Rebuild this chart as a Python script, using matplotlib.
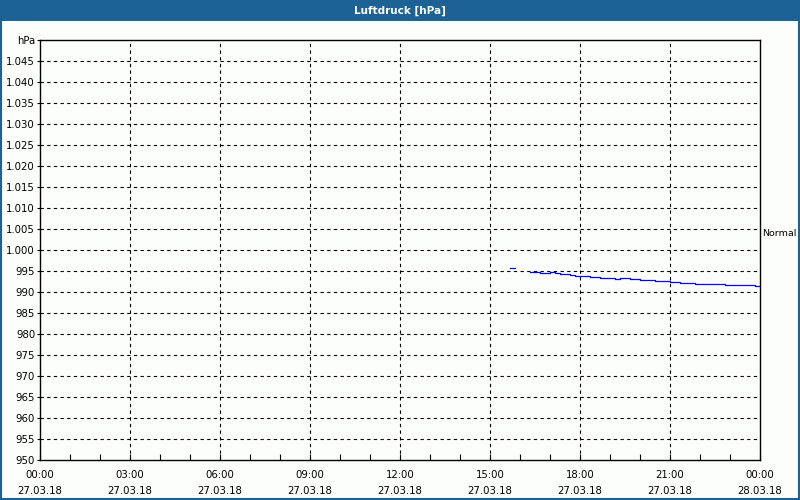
import matplotlib.pyplot as plt
import matplotlib.patches as patches
import numpy as np

# Luftdruck, 27.03.18, 10-Minuten-Werte (hPa)
start_a = 15 + 40/60  # 15:40
werte_a = [995.7, 995.7]
start_b = 16 + 20/60  # 16:20
werte_b = [994.7, 994.7, 994.5, 994.5, 994.8, 994.5, 994.2, 994.2, 994.0, 993.7,
           993.7, 993.7, 993.5, 993.5, 993.3, 993.3, 993.3, 993.0, 993.3, 993.3,
           993.0, 993.0, 992.8, 992.8, 992.8, 992.6, 992.6, 992.6, 992.3, 992.3,
           992.1, 992.1, 992.1, 991.8, 991.8, 991.8, 991.8, 991.8, 991.8, 991.6,
           991.6, 991.6, 991.6, 991.6, 991.6, 991.4, 991.4]
normal = 1004.0

x_ticks = [0, 3, 6, 9, 12, 15, 18, 21, 24]
x_labels = ['00:00\n27.03.18', '03:00\n27.03.18', '06:00\n27.03.18', '09:00\n27.03.18',
            '12:00\n27.03.18', '15:00\n27.03.18', '18:00\n27.03.18', '21:00\n27.03.18',
            '00:00\n28.03.18']
y_ticks = list(range(950, 1051, 5))

def ylabel(v):
    if v == 1050:
        return 'hPa'
    if v >= 1000:
        return '1.%03d' % (v - 1000)
    return str(v)

blau = '#1d6295'
bg = '#fcfefc'

fig = plt.figure(figsize=(8, 5), dpi=100, facecolor=bg)

# Titelleiste und Rahmen
fig.patches.append(patches.Rectangle((0, 1 - 21/500), 1, 21/500, transform=fig.transFigure,
                                     facecolor=blau, edgecolor='none', zorder=0))
fig.patches.append(patches.Rectangle((1/800, 1/500), 798/800, 1 - 2/500, transform=fig.transFigure,
                                     facecolor='none', edgecolor=blau, linewidth=1.5, zorder=5))
fig.text(0.5, 1 - 10.5/500, 'Luftdruck [hPa]', color='white', fontsize=7.5,
         fontweight='bold', ha='center', va='center')

ax = fig.add_axes([40/800, 40/500, 720/800, 420/500])
ax.set_facecolor(bg)
ax.set_xlim(0, 24)
ax.set_ylim(950, 1050)

t_a = start_a + np.arange(len(werte_a)) / 6
t_b = start_b + np.arange(len(werte_b)) / 6
ax.plot(t_a, werte_a, color='#0000ff', linewidth=0.9, drawstyle='steps-post')
ax.plot(t_b, werte_b, color='#0000ff', linewidth=0.9, drawstyle='steps-post')

for v in y_ticks[1:-1]:
    ax.axhline(v, color='black', linewidth=0.8, linestyle=(0, (3, 3)), zorder=0.5)
for t in x_ticks[1:-1]:
    ax.axvline(t, color='black', linewidth=0.8, linestyle=(0, (3, 3)), zorder=0.5)

ax.set_yticks(y_ticks)
ax.set_yticklabels([ylabel(v) for v in y_ticks], fontsize=7.3)
ax.tick_params(axis='y', length=2, width=0.8, pad=1.5)

ax.set_xticks(x_ticks)
ax.set_xticklabels(x_labels, fontsize=7.3, linespacing=1.75)
ax.set_xticks(range(25), minor=True)
ax.tick_params(axis='x', which='both', direction='in', length=4, width=0.8, pad=7)

for s in ax.spines.values():
    s.set_linewidth(1.0)

ax.text(24.08, normal, 'Normal', fontsize=6.8, ha='left', va='center', clip_on=False)

fig.savefig('out.png', dpi=100, facecolor=bg)
